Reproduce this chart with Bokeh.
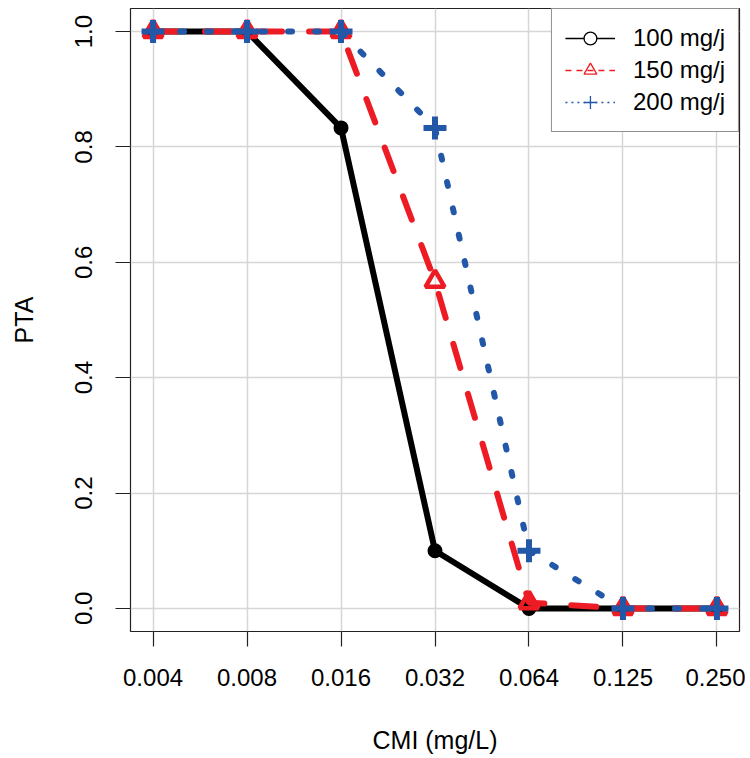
import math
from bokeh.plotting import figure
from bokeh.models import (FixedTicker, PrintfTickFormatter, Legend, LegendItem,
                          ColumnDataSource, Range1d)
from bokeh.embed import file_html
from bokeh.resources import INLINE

cmi_labels = ["0.004", "0.008", "0.016", "0.032", "0.064", "0.125", "0.250"]
pta_100 = [1.0, 1.0, 0.833, 0.1, 0.0, 0.0, 0.0]
pta_150 = [1.0, 1.0, 1.0, 0.567, 0.01, 0.0, 0.0]
pta_200 = [1.0, 1.0, 1.0, 0.833, 0.1, 0.0, 0.0]
series_names = ["100 mg/j", "150 mg/j", "200 mg/j"]
y_ticks = [0.0, 0.2, 0.4, 0.6, 0.8, 1.0]

x_idx = list(range(len(cmi_labels)))

FONT = "Liberation Sans"
RED = "#ED1C24"
BLUE = "#2357A8"

p = figure(width=745, height=756, output_backend="svg", toolbar_location=None,
           x_range=Range1d(-0.24, 6.24), y_range=Range1d(-0.04, 1.04),
           min_border_left=130, min_border_right=6, min_border_top=8,
           min_border_bottom=123)
p.background_fill_color = "white"
p.border_fill_color = "white"
p.outline_line_color = "#222222"
p.outline_line_width = 1.2

# axes
p.xaxis.ticker = FixedTicker(ticks=x_idx)
p.xaxis.major_label_overrides = {i: lab for i, lab in zip(x_idx, cmi_labels)}
p.yaxis.ticker = FixedTicker(ticks=y_ticks)
p.yaxis.formatter = PrintfTickFormatter(format="%.1f")
p.yaxis.major_label_orientation = "vertical"
for ax in (p.xaxis[0], p.yaxis[0]):
    ax.axis_line_color = None
    ax.major_tick_in = 0
    ax.major_tick_out = 15
    ax.major_tick_line_color = "#222222"
    ax.major_tick_line_width = 1.2
    ax.minor_tick_line_color = None
    ax.major_label_text_font = FONT
    ax.major_label_text_font_size = "24px"
    ax.major_label_text_color = "black"
    ax.axis_label_text_font = FONT
    ax.axis_label_text_font_size = "25px"
    ax.axis_label_text_font_style = "normal"
    ax.axis_label_text_color = "black"
p.xaxis.axis_label = "CMI (mg/L)"
p.yaxis.axis_label = "PTA"
p.xaxis.major_label_standoff = 22
p.xaxis.axis_label_standoff = 37
p.yaxis.major_label_standoff = 23
p.yaxis.axis_label_standoff = 35

p.grid.grid_line_color = "#d6d6d6"
p.grid.grid_line_width = 1.5

# data
src = ColumnDataSource(dict(x=x_idx, a=pta_100, b=pta_150, c=pta_200))

p.line("x", "a", source=src, line_color="black", line_width=6, line_cap="round", line_join="round")
p.scatter("x", "a", source=src, marker="circle", size=13, line_color="black",
          fill_color="black", line_width=2)

p.line("x", "b", source=src, line_color=RED, line_width=6, line_dash="25 27", line_cap="round")
p.scatter("x", "b", source=src, marker="triangle", size=19, line_color=RED,
          fill_color=None, line_width=4.5)

p.line("x", "c", source=src, line_color=BLUE, line_width=6, line_dash="4 23", line_cap="round")
p.scatter("x", "c", source=src, marker="cross", size=23, line_color=BLUE, line_width=6)

# legend with thin glyphs (dummy renderers without visible data)
nan = float("nan")
dsrc = ColumnDataSource(dict(x=[nan], y=[nan]))
l1 = p.line("x", "y", source=dsrc, line_color="black", line_width=1.3)
m1 = p.scatter("x", "y", source=dsrc, marker="circle", size=9, line_color="black",
               fill_color="white", line_width=1.3)
l2 = p.line("x", "y", source=dsrc, line_color=RED, line_width=1.3, line_dash="6 5")
m2 = p.scatter("x", "y", source=dsrc, marker="triangle", size=13, line_color=RED,
               fill_color=None, line_width=1.3)
l3 = p.line("x", "y", source=dsrc, line_color=BLUE, line_width=1.3, line_dash="2 4")
m3 = p.scatter("x", "y", source=dsrc, marker="cross", size=15, line_color=BLUE,
               line_width=1.3)

legend = Legend(items=[LegendItem(label=series_names[0], renderers=[l1, m1]),
                       LegendItem(label=series_names[1], renderers=[l2, m2]),
                       LegendItem(label=series_names[2], renderers=[l3, m3])],
                location="top_right")
legend.margin = 0
legend.padding = 13
legend.spacing = 0
legend.glyph_width = 50
legend.glyph_height = 32
legend.label_height = 32
legend.label_standoff = 18
legend.label_text_font = FONT
legend.label_text_font_size = "24px"
legend.label_text_color = "black"
legend.border_line_color = "#222222"
legend.border_line_width = 1.2
legend.background_fill_color = "white"
legend.background_fill_alpha = 1
p.add_layout(legend)

open("out.html", "w").write(file_html(p, INLINE))
